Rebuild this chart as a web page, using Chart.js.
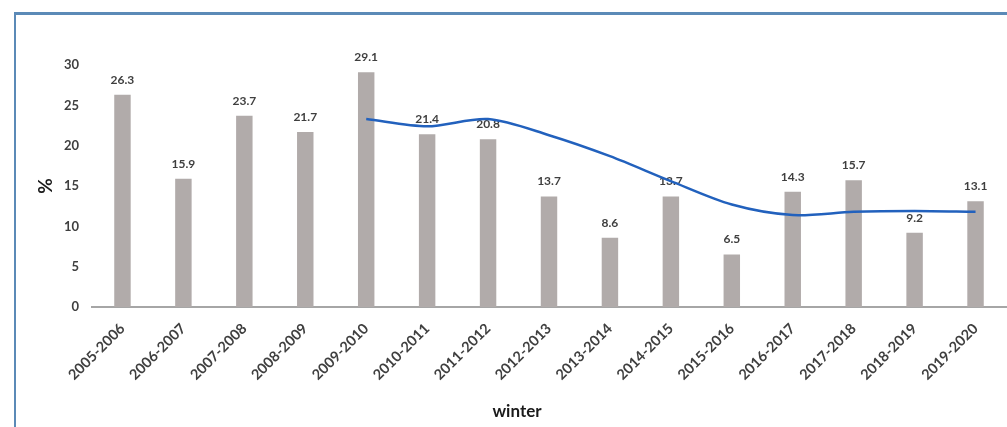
<!DOCTYPE html>
<html lang="en">
<head>
  <meta charset="UTF-8">
  <title>Winter chart</title>
  <script src="https://cdn.jsdelivr.net/npm/chart.js"></script>
  <style>
    html, body { margin: 0; padding: 0; background: #fff; overflow: hidden; }
    .wrap { position: relative; width: 1007px; height: 427px; }
    .frame {
      position: absolute; left: 14px; top: 12px; width: 1100px; height: 500px;
      border-left: 2px solid #5b8ab7; border-top: 3px solid #5b8ab7;
    }
    canvas { position: absolute; left: 0; top: 0; }
  </style>
</head>
<body>
  <div class="wrap">
    <div class="frame"></div>
    <canvas id="grafico" width="1007" height="427"></canvas>
  </div>

  <script>
    const winters = ['2005-2006', '2006-2007', '2007-2008', '2008-2009', '2009-2010', '2010-2011',
      '2011-2012', '2012-2013', '2013-2014', '2014-2015', '2015-2016', '2016-2017',
      '2017-2018', '2018-2019', '2019-2020'];
    const percentages = [26.3, 15.9, 23.7, 21.7, 29.1, 21.4, 20.8, 13.7, 8.6, 13.7, 6.5, 14.3, 15.7, 9.2, 13.1];
    // trend line (starts at 2009-2010)
    const trend = [null, null, null, null, 23.3, 22.4, 23.3, 21.3, 18.7, 15.6, 12.7, 11.4, 11.8, 11.9, 11.8];
    const yTicks = [0, 5, 10, 15, 20, 25, 30];

    const fontFam = 'Lato, "Open Sans", sans-serif';
    const textColor = '#3f3f3f';

    // etiquetas encima de las barras
    const barLabels = {
      id: 'barLabels',
      afterDatasetDraw(chart, args) {
        if (args.index !== 0) return;
        const ctx = chart.ctx;
        ctx.save();
        ctx.font = 'bold 12px ' + fontFam;
        ctx.fillStyle = textColor;
        ctx.textAlign = 'center';
        ctx.textBaseline = 'bottom';
        args.meta.data.forEach((bar, i) => {
          ctx.fillText(percentages[i].toFixed(1), bar.x, bar.y - 9);
        });
        ctx.restore();
      },
      // titulo del eje x, un poco a la izquierda como en el original
      afterDraw(chart) {
        const ctx = chart.ctx;
        ctx.save();
        ctx.font = 'bold 17px ' + fontFam;
        ctx.fillStyle = '#1a1a1a';
        ctx.textAlign = 'center';
        ctx.textBaseline = 'middle';
        ctx.fillText('winter', chart.chartArea.left + 425, 412);
        ctx.restore();
      }
    };

    new Chart(document.getElementById('grafico'), {
      data: {
        labels: winters,
        datasets: [
          {
            type: 'bar',
            data: percentages,
            backgroundColor: '#b1abaa',
            barPercentage: 0.27,
            categoryPercentage: 1,
            order: 1
          },
          {
            type: 'line',
            data: trend,
            borderColor: '#2261bd',
            borderWidth: 2.5,
            tension: 0.3,
            pointRadius: 0,
            fill: false,
            order: 0
          }
        ]
      },
      options: {
        responsive: false,
        animation: false,
        layout: { padding: { left: 30, top: 65, right: 1, bottom: 0 } },
        plugins: { legend: { display: false }, tooltip: { enabled: false } },
        scales: {
          x: {
            grid: { display: false, drawTicks: false },
            border: { color: '#a6a6a6', width: 2 },
            ticks: {
              color: textColor,
              font: { family: fontFam, size: 14.5, weight: 'bold' },
              minRotation: 45,
              maxRotation: 45,
              padding: 13
            },
            afterFit(scale) { scale.height = 120; }
          },
          y: {
            min: 0,
            max: 30,
            grid: { display: false, drawTicks: false },
            border: { display: false },
            afterBuildTicks(scale) { scale.ticks = yTicks.map(v => ({ value: v })); },
            ticks: {
              color: textColor,
              font: { family: fontFam, size: 13, weight: 'bold' },
              padding: 13
            },
            title: {
              display: true,
              text: '%',
              color: '#1a1a1a',
              font: { family: fontFam, size: 19, weight: 'bold' }
            },
            afterFit(scale) { scale.width = 62; }
          }
        }
      },
      plugins: [barLabels]
    });
  </script>
</body>
</html>
